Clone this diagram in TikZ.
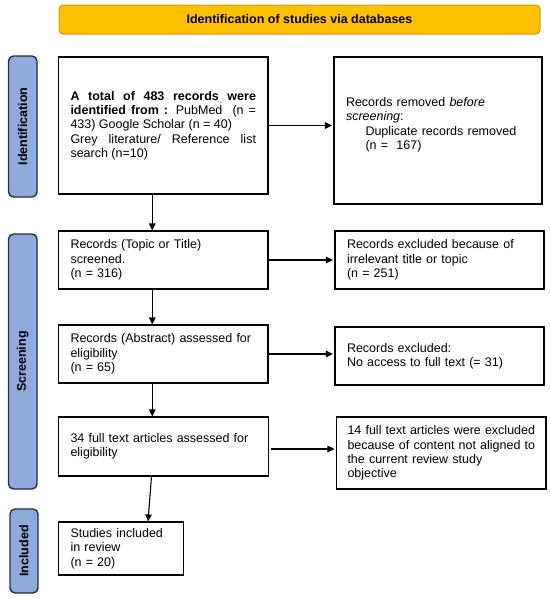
\documentclass[tikz,border=0pt]{standalone}
\usepackage{fontspec}
\setmainfont{Liberation Sans}
\usetikzlibrary{arrows.meta,calc}
\definecolor{hdrfill}{RGB}{255,192,0}
\definecolor{hdrdraw}{RGB}{205,155,25}
\definecolor{lblfill}{RGB}{143,170,220}
\definecolor{lbldraw}{RGB}{35,45,65}
\hyphenpenalty=10000
\exhyphenpenalty=10000
\begin{document}
\begin{tikzpicture}[x=1pt,y=-1pt,
  font=\fontsize{12.5}{14.3}\selectfont,
  box/.style={draw=black, line width=1.1pt, rectangle, inner xsep=12pt, inner ysep=0pt, align=left},
  hdr/.style={draw=hdrdraw, fill=hdrfill, line width=1pt, rounded corners=4pt,
    font=\fontsize{12.5}{14.3}\selectfont\bfseries},
  sidelbl/.style={draw=lbldraw, fill=lblfill, line width=1.4pt, rounded corners=5pt,
    rotate=90, font=\fontsize{12.5}{14.3}\selectfont\bfseries},
  arr/.style={-{Triangle[length=7pt,width=6.5pt]}, line width=1.1pt}]
\useasboundingbox (0,0) rectangle (550,600);

\node[hdr, minimum width=481pt, minimum height=29pt] (hdr) at (299.5,19.5) {Identification of studies via databases};

\node[sidelbl, minimum width=141pt, minimum height=28.5pt] (lident) at (22.75,126.5) {Identification};
\node[sidelbl, minimum width=255pt, minimum height=28.5pt] (lscreen) at (22.75,361.5) {Screening};
\node[sidelbl, minimum width=84pt, minimum height=28pt] (lincl) at (24,551) {Included};

\node[box, align=justify, text width=185.5pt, minimum height=137pt] (box1) at (163.25,125.5)
 {\textbf{A total of 483 records were}\linebreak \textbf{identified from :} PubMed\ \ (n =\linebreak 433) Google Scholar (n = 40)\newline Grey literature/ Reference list\linebreak search (n=10)};

\node[box, text width=184pt, minimum height=147pt] (box2) at (438,130.5)
 {Records removed \textit{before}\\ \textit{screening}:\\ \hspace*{19.5pt}Duplicate records removed\\ \hspace*{19.5pt}(n =\ \ 167)\\ \mbox{}};

\node[box, text width=185.5pt, minimum height=58pt] (box3) at (163.25,260)
 {Records (Topic or Title)\\ screened.\\ (n = 316)};
\node[box, text width=185pt, minimum height=58pt] (box4) at (439.5,260)
 {\mbox{Records excluded because of}\\ irrelevant title or topic\\ (n = 251)};

\node[box, text width=185.5pt, minimum height=58pt] (box5) at (163.25,354)
 {\mbox{Records (Abstract) assessed for}\\ eligibility\\ (n = 65)};
\node[box, text width=185pt, minimum height=58pt] (box6) at (439.5,356)
 {Records excluded:\\ \mbox{No access to full text (= 31)}};

\node[box, text width=186pt, minimum height=59pt] (box7) at (163.5,446.5)
 {\mbox{34 full text articles assessed for}\\ eligibility};
\node[box, inner xsep=11pt, text width=187.5pt, minimum height=72pt] (box8) at (441.25,453)
 {\mbox{14 full text articles were excluded}\\ \mbox{because of content not aligned to}\\ \mbox{the current review study}\\ objective};

\node[box, text width=101pt, minimum height=53pt] (box9) at (121,548.5)
 {Studies included\\ in review\\ (n = 20)};

\draw[arr, shorten >=1.5pt] (box1.east) -- (box1.east -| box2.west);
\draw[arr, shorten >=1.5pt] (box3.east) -- (box3.east -| box4.west);
\draw[arr, shorten >=1.5pt] (box5.east) -- (box5.east -| box6.west);
\draw[arr, shorten >=1.5pt, shorten <=2pt] ([yshift=-2.5pt]box7.east) -- ([yshift=-2.5pt]box7.east -| box8.west);

\draw[arr] ([xshift=-11pt]box1.south) -- ([xshift=-11pt]box1.south |- box3.north);
\draw[arr] ([xshift=-11pt]box3.south) -- ([xshift=-11pt]box3.south |- box5.north);
\draw[arr] ([xshift=-11pt]box5.south) -- ([xshift=-11pt]box5.south |- box7.north);
\draw[arr] ([xshift=-12pt]box7.south) -- ([xshift=27pt]box9.north);
\end{tikzpicture}
\end{document}
